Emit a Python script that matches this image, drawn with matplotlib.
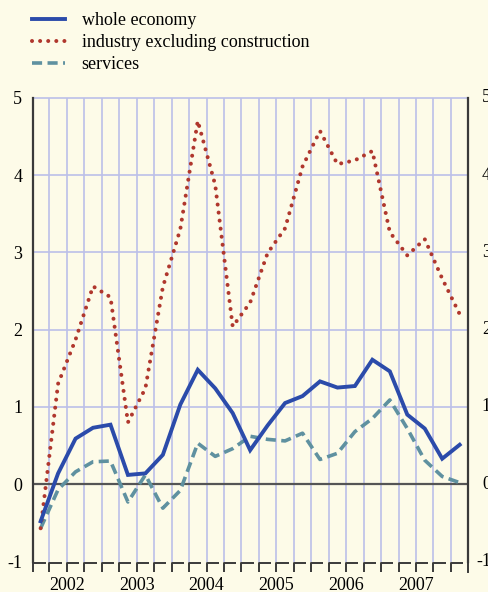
import matplotlib.pyplot as plt
import numpy as np

# quarterly values, 25 points (one per grid cell)
whole_economy = [-0.48, 0.14, 0.59, 0.73, 0.77, 0.12, 0.14, 0.38, 1.03, 1.48,
                 1.24, 0.92, 0.44, 0.76, 1.05, 1.14, 1.33, 1.25, 1.27, 1.61,
                 1.46, 0.90, 0.72, 0.33, 0.51]
industry = [-0.57, 1.30, 1.87, 2.56, 2.42, 0.80, 1.24, 2.55, 3.30, 4.70,
            3.87, 2.04, 2.35, 2.99, 3.31, 4.11, 4.57, 4.14, 4.19, 4.31,
            3.26, 2.96, 3.17, 2.66, 2.20]
services = [-0.57, -0.07, 0.16, 0.29, 0.30, -0.23, 0.12, -0.31, -0.08, 0.53,
            0.36, 0.46, 0.62, 0.58, 0.56, 0.66, 0.32, 0.40, 0.68, 0.85,
            1.09, 0.72, 0.31, 0.10, 0.02]
series_names = ["whole economy", "industry excluding construction", "services"]
years = ["2002", "2003", "2004", "2005", "2006", "2007"]
ytick_values = [-1, 0, 1, 2, 3, 4, 5]
ytick_labels = ["-1", "0", "1", "2", "3", "4", "5"]

BG = "#fdfbe8"
GRID = "#bcc0e8"
AXIS = "#3a3a3a"
W, H = 489, 592

plt.rcParams["font.family"] = ["Liberation Serif", "DejaVu Serif"]

fig = plt.figure(figsize=(W / 100, H / 100), dpi=100, facecolor=BG)
left, right, top, bottom = 33.3, 467.7, 97.7, 561.5
ax = fig.add_axes([left / W, 1 - bottom / H, (right - left) / W, (bottom - top) / H])
ax.set_facecolor(BG)

x = np.arange(len(whole_economy))
ax.set_xlim(-0.42, len(x) - 0.54)
ax.set_ylim(-1, 5)

# grid
gridlines = np.arange(len(x) - 1) + 0.5
ax.vlines(gridlines, -1, 5, color=GRID, lw=1.2, zorder=0)
ax.hlines([1, 2, 3, 4, 5], -0.42, len(x) - 0.54, color=GRID, lw=1.2, zorder=0, clip_on=False)
ax.axhline(0, color="#555555", lw=1.6, zorder=1)

ax.plot(x, whole_economy, color="#2b4baa", lw=2.8, label=series_names[0], zorder=4,
        solid_joinstyle="miter")
ax.plot(x, industry, color="#b0372d", lw=2.9, linestyle=(0, (0.01, 2.0)),
        dash_capstyle="round", label=series_names[1], zorder=3)
ax.plot(x, services, color="#5f91a0", lw=2.6, linestyle=(0, (2.8, 1.5)),
        label=series_names[2], zorder=2)

for side in ["top", "bottom"]:
    ax.spines[side].set_visible(False)
for side in ["left", "right"]:
    ax.spines[side].set_color(AXIS)
    ax.spines[side].set_linewidth(1.6)

ax.set_yticks(ytick_values, ytick_labels)
ax.tick_params(axis="y", length=0, labelsize=13, pad=8)
for v, lab in zip(ytick_values, ytick_labels):
    ax.text(1 + (491 - right) / (right - left), v, lab, transform=ax.get_yaxis_transform(),
            ha="right", va="center", fontsize=13, clip_on=False)

year_pos = np.arange(len(years)) * 4 + 1.5
ax.set_xticks(year_pos, years)
ax.tick_params(axis="x", length=0, labelsize=13, pad=11)

# segmented x axis below the plot
edges = [-0.42] + list(gridlines) + [len(x) - 0.54]
tr = ax.get_xaxis_transform()
y0 = -1.0 / (bottom - top)
y1 = -10.5 / (bottom - top)
for k in range(len(edges) - 1):
    ax.plot([edges[k], edges[k], min(edges[k] + 0.7, edges[k + 1])], [y1, y0, y0],
            color=AXIS, lw=1.4, transform=tr, clip_on=False, solid_capstyle="butt")
ax.plot([edges[-1], edges[-1]], [y0, y1], color=AXIS, lw=1.4, transform=tr, clip_on=False)

fig.legend(loc="upper left", bbox_to_anchor=(32 / W, 1 - 12 / H), frameon=False,
           fontsize=13, handlelength=1.85, handletextpad=0.9, labelspacing=0.28,
           borderpad=0, borderaxespad=0)

fig.savefig("out.png", dpi=100, facecolor=BG)
